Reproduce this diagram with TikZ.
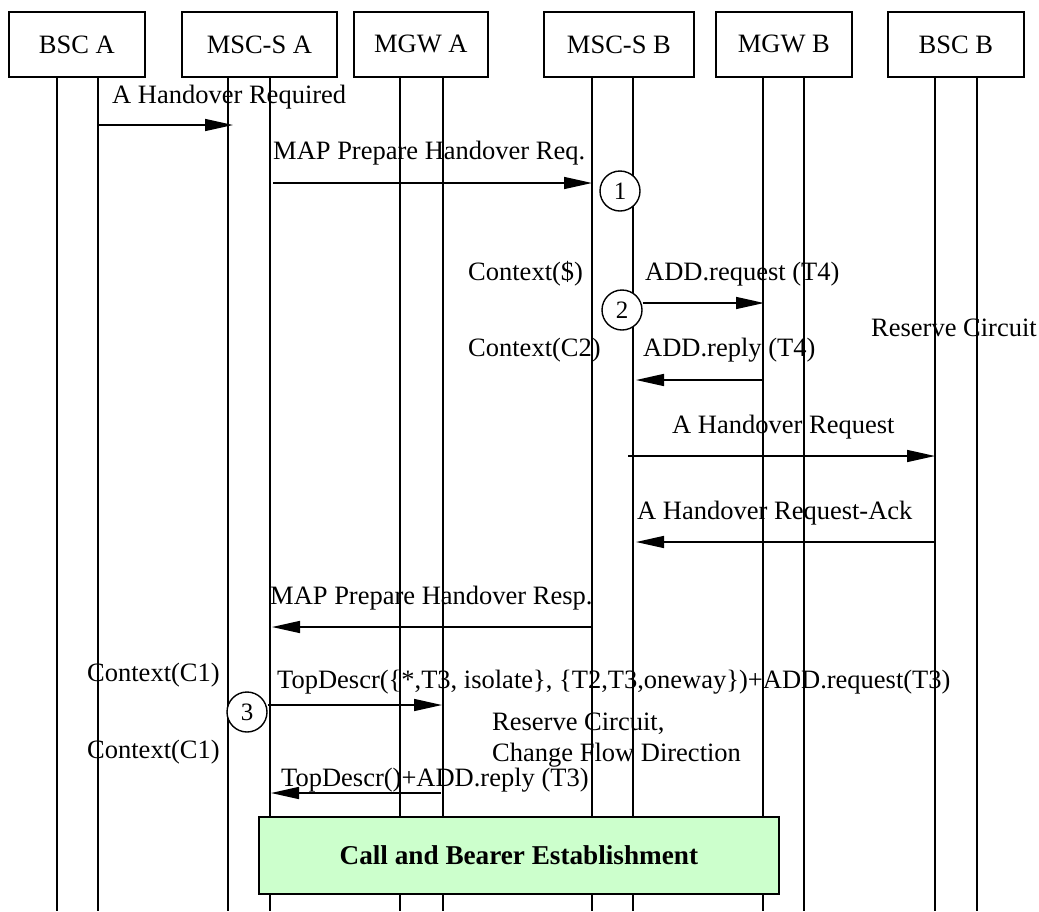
\documentclass[tikz,border=0pt]{standalone}
\usepackage{fontspec}
\setmainfont{Liberation Serif}
\usetikzlibrary{arrows.meta}
\begin{document}
\begin{tikzpicture}[x=1pt,y=-1pt,
  every node/.style={font=\fontsize{26.5}{30}\selectfont, inner sep=0pt},
  entity/.style={draw, line width=1.8pt, minimum width=136pt, minimum height=65pt, anchor=north west},
  lifeline/.style={line width=1.1pt},
  msg/.style={line width=1.5pt, -{Triangle[length=28pt,width=12pt]}},
  lbl/.style={anchor=base west},
  stepcircle/.style={draw, circle, fill=white, line width=1.4pt, minimum size=40pt, font=\fontsize{25}{28}\selectfont},
  phase/.style={draw, line width=1.8pt, fill=green!20, anchor=north west, minimum width=520pt, minimum height=77pt, font=\fontsize{27.2}{30}\selectfont\bfseries}
]
\useasboundingbox (0,0) rectangle (1039,911);
% lifelines
\foreach \x in {57,98,228,270,400,443,592,633,763,804,935,977}{
  \draw[lifeline] (\x,76) -- (\x,911);
}
% entities
\node[entity] (bsca) at (8,11) {BSC A};
\node[entity, minimum width=155pt] (msca) at (181,11) {MSC-S A};
\node[entity, minimum width=134pt] (mgwa) at (353,11) {MGW A};
\node[entity, minimum width=150pt] (mscb) at (543,11) {MSC-S B};
\node[entity, minimum width=136pt] (mgwb) at (715,11) {MGW B};
\node[entity, minimum width=136pt] (bscb) at (887,11) {BSC B};

% message 1
\node[lbl] (t1) at (112,103) {A Handover Required};
\coordinate (m1s) at (98,125); \coordinate (m1e) at (233,125);
\draw[msg] (m1s) -- (m1e);

% message 2
\node[lbl] (t2) at (273,159) {MAP Prepare Handover Req.};
\coordinate (m2s) at (273,183); \coordinate (m2e) at (592,183);
\draw[msg] (m2s) -- (m2e);
\node[stepcircle] (c1) at (620,191) {1};

% ADD request T4
\node[lbl] (t3a) at (468,280) {Context(\$)};
\node[lbl] (t3) at (645,280) {ADD.request (T4)};
\node[stepcircle] (c2) at (622,310) {2};
\coordinate (m3e) at (764,303);
\draw[msg] (c2.east |- m3e) -- (m3e);

\node[lbl] (t4a) at (468,356) {Context(C2)};
\node[lbl] (t4) at (643,356) {ADD.reply (T4)};
\coordinate (m4s) at (763,380); \coordinate (m4e) at (636,380);
\draw[msg] (m4s) -- (m4e);

\node[lbl] (rc) at (871,336) {Reserve Circuit};

% A Handover Request
\node[lbl] (t5) at (672,433) {A Handover Request};
\coordinate (m5s) at (628,456); \coordinate (m5e) at (935,456);
\draw[msg] (m5s) -- (m5e);

% Ack
\node[lbl] (t6) at (637,519) {A Handover Request-Ack};
\coordinate (m6s) at (934,542); \coordinate (m6e) at (636,542);
\draw[msg] (m6s) -- (m6e);

% MAP resp
\node[lbl] (t7) at (270,604) {MAP Prepare Handover Resp.};
\coordinate (m7s) at (592,627); \coordinate (m7e) at (272,627);
\draw[msg] (m7s) -- (m7e);

% TopDescr request
\node[lbl] (t8a) at (87,681) {Context(C1)};
\node[lbl] (t8) at (277,688) {TopDescr(\{*,T3, isolate\}, \{T2,T3,oneway\})+ADD.request(T3)};
\node[stepcircle] (c3) at (247,712) {3};
\coordinate (m8e) at (442,705);
\draw[msg] (c3.east |- m8e) -- (m8e);

\node[lbl] (t9a) at (492,730) {Reserve Circuit,};
\node[lbl] (t9b) at (492,761) {Change Flow Direction};
\node[lbl] (t10a) at (87,758) {Context(C1)};
\node[lbl] (t10) at (281,786) {TopDescr()+ADD.reply (T3)};
\coordinate (m10s) at (441,793); \coordinate (m10e) at (271,793);
\draw[msg] (m10s) -- (m10e);

% phase box
\node[phase] (cbe) at (258,816) {Call and Bearer Establishment};
\end{tikzpicture}
\end{document}
